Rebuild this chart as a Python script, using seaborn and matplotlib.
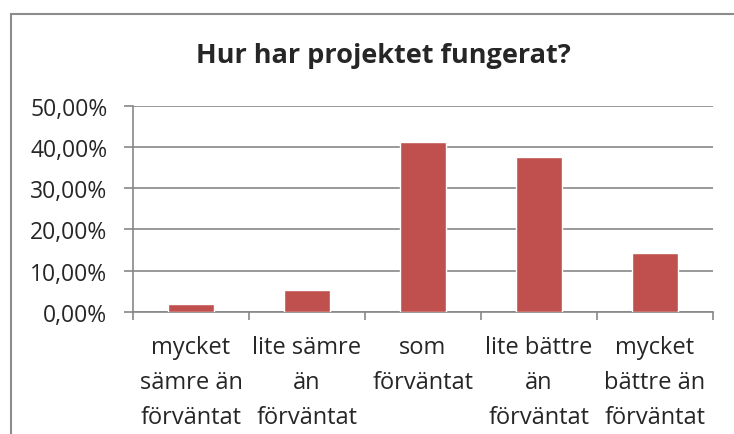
import matplotlib
matplotlib.use("Agg")
import matplotlib.pyplot as plt
from matplotlib.patches import Rectangle
from matplotlib.ticker import FuncFormatter
import pandas as pd
import seaborn as sns

# data
kategorier = ["mycket\nsämre än\nförväntat", "lite sämre\nän\nförväntat", "som\nförväntat",
              "lite bättre\nän\nförväntat", "mycket\nbättre än\nförväntat"]
andelar = [0.0179, 0.0536, 0.4107, 0.3750, 0.1429]
y_ticks = [0.0, 0.1, 0.2, 0.3, 0.4, 0.5]
titel = "Hur har projektet fungerat?"

sns.set_style("white")
plt.rcParams['font.family'] = ['Open Sans', 'DejaVu Sans']

df = pd.DataFrame({"kategori": kategorier, "andel": andelar})

W, H = 734, 435
fig = plt.figure(figsize=(W / 100, H / 100), dpi=100)
ax = fig.add_axes([133 / W, 1 - 312.7 / H, 580 / W, 206 / H])

sns.barplot(data=df, x="kategori", y="andel", color="#C0504D", saturation=1,
            width=0.39, ax=ax, zorder=3)

grid_farg = "#878787"
ax.set_ylim(0, 0.5)
ax.set_xlim(-0.5, len(kategorier) - 0.5)
ax.set_yticks(y_ticks)
ax.yaxis.set_major_formatter(FuncFormatter(lambda v, p: f"{v * 100:.2f}%".replace(".", ",")))
ax.grid(axis="y", color=grid_farg, linewidth=1.2, zorder=0)

# tick marks between categories, labels at the centers
ax.set_xticks([i - 0.5 for i in range(len(kategorier) + 1)])
ax.set_xticklabels([])
ax.set_xticks(range(len(kategorier)), minor=True)
ax.set_xticklabels(kategorier, minor=True, fontsize=17, linespacing=1.6)
ax.tick_params(axis="x", which="major", direction="out", length=5.5, color=grid_farg, width=1.2, bottom=True)
ax.tick_params(axis="x", which="minor", length=0, pad=17)
ax.tick_params(axis="y", direction="out", length=6.5, color=grid_farg, width=1.2, left=True,
               labelsize=16.5, pad=12)

for s in ["top", "right"]:
    ax.spines[s].set_visible(False)
for s in ["left", "bottom"]:
    ax.spines[s].set_color(grid_farg)
    ax.spines[s].set_linewidth(1.2)

ax.set_xlabel("")
ax.set_ylabel("")

fig.text(383 / W, 1 - 63 / H, titel, ha="center", va="baseline",
         fontsize=19.5, fontweight="bold")

# outer chart frame
fig.patches.append(Rectangle((11 / W, -0.1), 1.1, 1 - 15 / H + 0.1,
                             transform=fig.transFigure, fill=False,
                             edgecolor="#8c8c8c", linewidth=1.5))

fig.savefig("out.png", dpi=100)
